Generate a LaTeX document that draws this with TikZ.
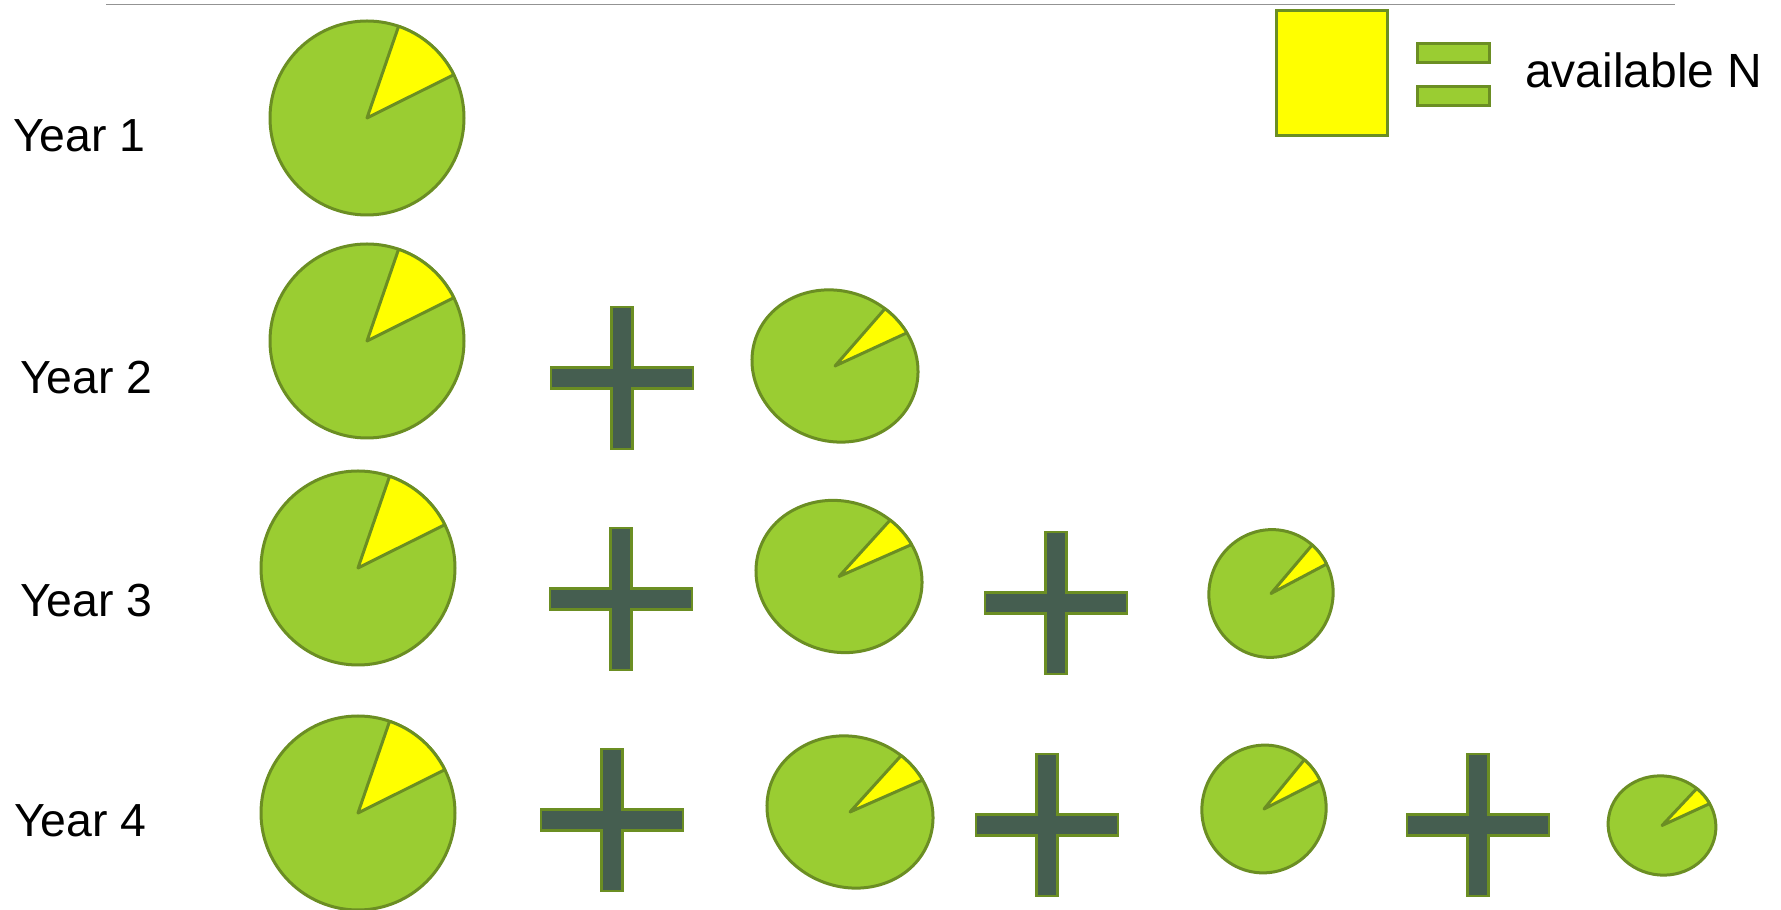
\documentclass[tikz,border=0pt]{standalone}
\usepackage{fontspec}
\setmainfont{Liberation Sans}
\usepackage{tikz}
\usetikzlibrary{positioning}
\usepackage{xcolor}
\definecolor{leafgreen}{RGB}{154,205,50}
\definecolor{rimgreen}{RGB}{107,142,35}
\definecolor{plusgray}{RGB}{69,94,80}
\definecolor{nyellow}{RGB}{255,255,0}

\begin{document}
\begin{tikzpicture}[
  x=1pt, y=1pt,
  pie/.style  ={draw=rimgreen, fill=leafgreen, line width=3pt},
  slice/.style={draw=rimgreen, fill=nyellow, line width=3pt, line join=round},
  plusmark/.style={draw=rimgreen, fill=plusgray, line width=2.5pt},
  eqbar/.style={draw=rimgreen, fill=leafgreen, line width=3pt, minimum width=72pt, minimum height=19pt, inner sep=0},
  year/.style ={anchor=base west, inner sep=0, font=\fontsize{46.4}{50}\selectfont},
  pics/npie/.style n args={4}{code={
    \filldraw[pie] (0,0) ellipse[x radius=#1, y radius=#2];
    \filldraw[slice] (0,0) -- (#3:#1 and #2) arc[start angle=#3, end angle=#4, x radius=#1, y radius=#2] -- cycle;
  }},
  pics/cross/.style={code={
    \filldraw[plusmark] (-71,-10.5) -- (-10.5,-10.5) -- (-10.5,-71) -- (10.5,-71) -- (10.5,-10.5) -- (71,-10.5)
      -- (71,10.5) -- (10.5,10.5) -- (10.5,71) -- (-10.5,71) -- (-10.5,10.5) -- (-71,10.5) -- cycle;
  }},
]
\useasboundingbox (0,0) rectangle (1781,910);
\draw[gray!85, line width=1.5pt] (106,905.5) -- (1675,905.5);

\node[draw=rimgreen, fill=nyellow, line width=3pt, minimum width=111pt, minimum height=125pt] (nbox) at (1332,837) {};
\node[eqbar] (eqtop) at (1453.5,857) {};
\node[eqbar] (eqbot) at (1453.5,813.5) {};
\node[anchor=base west, inner sep=0, font=\fontsize{48}{52}\selectfont] (availN) at (1525,822) {available N};

\node[year] (year1) at (13,758) {Year 1};
\node[year] (year2) at (20,516) {Year 2};
\node[year] (year3) at (20,293) {Year 3};
\node[year] (year4) at (14,73) {Year 4};

\pic (p11) at (367,792) {npie={97}{97}{26.5}{71}};

\pic (p21) at (367,569) {npie={97}{97}{26.5}{71}};
\pic[rotate=-20] (p22) at (835,544) {npie={84}{75}{48}{71}};

\pic (p31) at (358,342) {npie={97}{97}{26.5}{71}};
\pic[rotate=-20] (p32) at (839,333.5) {npie={84}{75}{47}{70}};
\pic[rotate=-15] (p33) at (1271,316.5) {npie={62}{64}{42}{64}};

\pic (p41) at (358,97) {npie={97}{97}{26.5}{71}};
\pic[rotate=-20] (p42) at (850,98) {npie={84}{75}{47}{70}};
\pic[rotate=-15] (p43) at (1264,101) {npie={62}{64}{41}{65}};
\pic[rotate=-10] (p44) at (1662,84.5) {npie={54}{49.5}{37}{59}};

\foreach \px/\py in {622/532, 621/311, 1056/307, 612/90, 1047/85, 1478/85}
  \pic at (\px,\py) {cross};
\end{tikzpicture}
\end{document}
